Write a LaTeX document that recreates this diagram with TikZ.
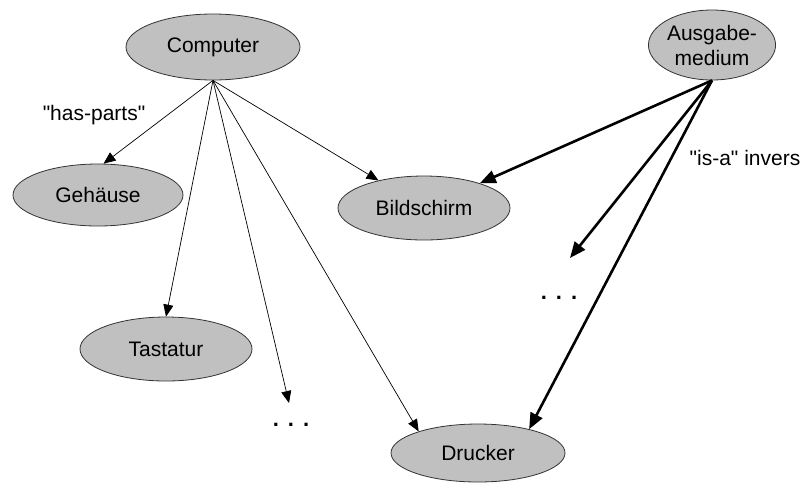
\documentclass[tikz,border=0pt]{standalone}
\usepackage{fontspec}
\setmainfont{Liberation Sans}[Ligatures=TeXOff]
\usetikzlibrary{shapes.geometric,arrows.meta}
\definecolor{nodegray}{HTML}{C0C0C0}
\newcommand{\spdots}{.\hspace{9pt}.\hspace{9pt}.}
\begin{document}
\begin{tikzpicture}[x=1pt,y=-1pt,
  concept/.style={ellipse,draw=black!80,line width=0.8pt,fill=nodegray,
    inner sep=0pt,font=\fontsize{21}{25}\selectfont,align=center},
  partarrow/.style={line width=0.7pt,-{Triangle[length=12pt,width=10pt]}},
  isaarrow/.style={line width=2.6pt,-{Triangle[length=16pt,width=13pt]}},
  lbl/.style={font=\fontsize{21}{25}\selectfont,inner sep=0pt},
  dotslbl/.style={font=\fontsize{22}{24}\bfseries\selectfont,inner sep=0pt}]
\useasboundingbox (0,0) rectangle (810,483);

% concepts
\node[concept,minimum width=174pt,minimum height=66pt] (comp) at (213,47) {Computer};
\node[concept,minimum width=120pt,minimum height=70pt] (aus) at (712,45) {Ausgabe-\\medium};
\node[concept,minimum width=170pt,minimum height=62pt] (geh) at (98,195) {Gehäuse};
\node[concept,minimum width=172pt,minimum height=64pt] (bild) at (424,208) {Bildschirm};
\node[concept,minimum width=172pt,minimum height=64pt] (tast) at (166,349) {Tastatur};
\node[concept,minimum width=174pt,minimum height=58pt] (druck) at (478,453) {Drucker};

% open ends of the lists
\node[dotslbl] (dots1) at (291,425) {\spdots};
\node[dotslbl] (dots2) at (559,298) {\spdots};
\coordinate (end1) at (289,403);
\coordinate (end2) at (570,258);

% relation labels
\node[lbl] (haspart) at (94,115) {"has-parts"};
\node[lbl] (isa) at (745,158) {"is-a" invers};

% has-parts
\draw[partarrow] (comp.south) -- (geh.80);
\draw[partarrow] (comp.south) -- (tast.north);
\draw[partarrow] (comp.south) -- (end1);
\draw[partarrow] (comp.south) -- (druck.160);
\draw[partarrow] (comp.south) -- (bild);

% is-a inverse
\draw[isaarrow] (aus.south) -- (bild);
\draw[isaarrow] (aus.south) -- (end2);
\draw[isaarrow] (aus.south) -- (druck.25);
\end{tikzpicture}
\end{document}
